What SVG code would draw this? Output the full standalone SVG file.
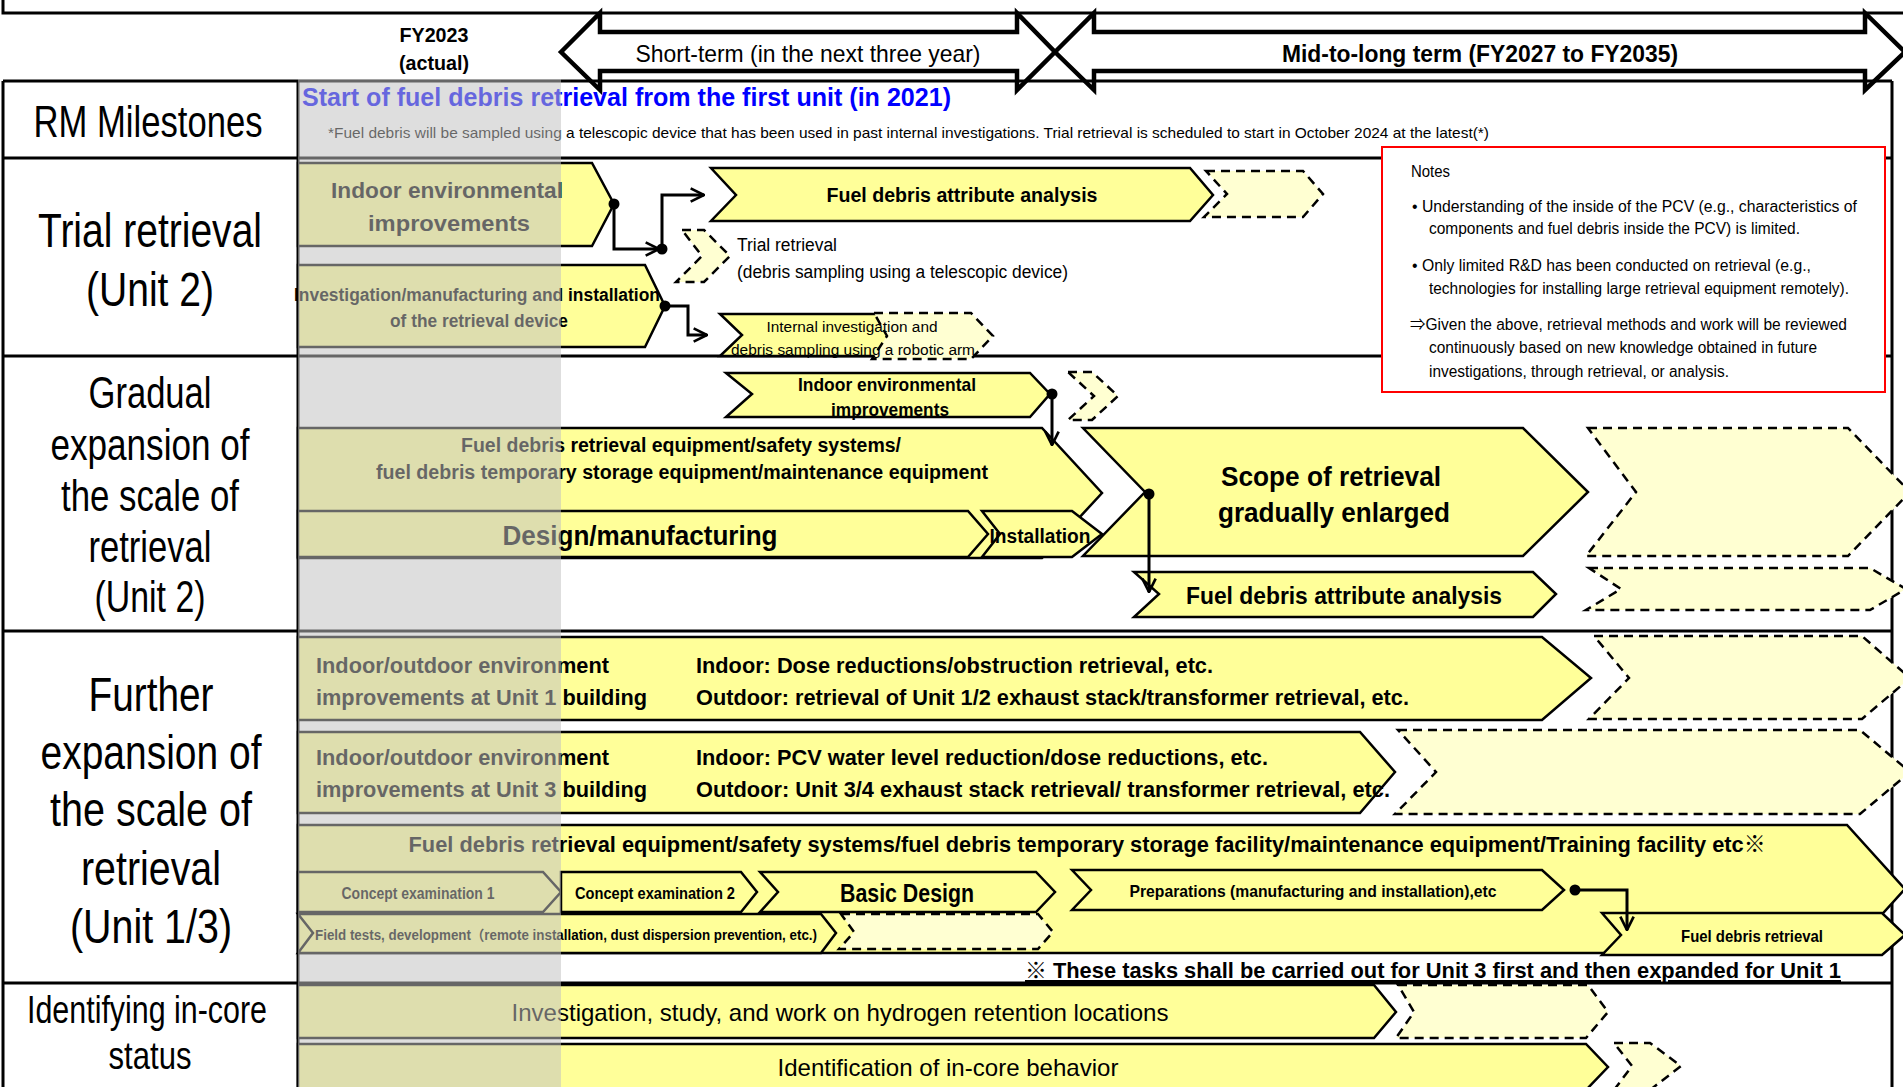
<svg xmlns="http://www.w3.org/2000/svg" width="1903" height="1087" viewBox="0 0 1903 1087">
<style>
.s{fill:#ffff99;stroke:#000;stroke-width:2.5;stroke-linejoin:miter}
.d{fill:#ffffd2;stroke:#000;stroke-width:2.5;stroke-dasharray:9 6}
.t{font-family:'Liberation Sans',Arial,'Noto Sans CJK JP',sans-serif;fill:#000}
.b{font-weight:bold}
.m{text-anchor:middle}
.ln{stroke:#000;stroke-width:3;fill:none}
.cn{stroke:#000;stroke-width:3;fill:none;marker-end:url(#arr)}
.lab{font-size:48px}
</style>
<defs>
<marker id="arr" viewBox="0 0 12 12" refX="11" refY="6" markerWidth="16" markerHeight="16" markerUnits="userSpaceOnUse" orient="auto">
<path d="M1,1 L11,6 L1,11" fill="none" stroke="#000" stroke-width="2"/>
</marker>
</defs>
<rect x="0" y="0" width="1903" height="1087" fill="#fff"/>

<g id="header">
<path d="M561,52 L600,13 V32 H1017 V13 L1055,52 L1017,90 V71 H600 V90 Z" fill="#fff" stroke="#000" stroke-width="4.5"/>
<path d="M1055,52 L1094,13 V32 H1865 V13 L1905,52 L1865,90 V71 H1094 V90 Z" fill="#fff" stroke="#000" stroke-width="4.5"/>
<text class="t b m" x="434" y="42" font-size="21" textLength="69" lengthAdjust="spacingAndGlyphs">FY2023</text>
<text class="t b m" x="434" y="70" font-size="21" textLength="70" lengthAdjust="spacingAndGlyphs">(actual)</text>
<text class="t m" x="808" y="62" font-size="24" textLength="345" lengthAdjust="spacingAndGlyphs">Short-term (in the next three year)</text>
<text class="t b m" x="1480" y="62" font-size="24" textLength="396" lengthAdjust="spacingAndGlyphs">Mid-to-long term (FY2027 to FY2035)</text>
</g>

<g id="table">
<path class="ln" d="M3,0 V13 H1903" stroke-width="2.5"/>
<path class="ln" d="M3,81 H1892 M3,158 H1892 M3,356 H1892 M3,631 H1892 M3,983 H1892"/>
<path class="ln" d="M3,81 V1087 M298,81 V1087 M1892,81 V1087" stroke-width="2.5"/>
</g>

<g id="labels">
<text class="t m" x="148" y="137" font-size="44" textLength="229" lengthAdjust="spacingAndGlyphs">RM Milestones</text>
<text class="t m lab" x="150" y="247" textLength="224" lengthAdjust="spacingAndGlyphs">Trial retrieval</text>
<text class="t m lab" x="150" y="306" textLength="128" lengthAdjust="spacingAndGlyphs">(Unit 2)</text>
<text class="t m" x="150" y="408" font-size="44" textLength="123" lengthAdjust="spacingAndGlyphs">Gradual</text>
<text class="t m" x="150" y="460" font-size="44" textLength="199" lengthAdjust="spacingAndGlyphs">expansion of</text>
<text class="t m" x="150" y="511" font-size="44" textLength="178" lengthAdjust="spacingAndGlyphs">the scale of</text>
<text class="t m" x="150" y="562" font-size="44" textLength="123" lengthAdjust="spacingAndGlyphs">retrieval</text>
<text class="t m" x="150" y="612" font-size="44" textLength="111" lengthAdjust="spacingAndGlyphs">(Unit 2)</text>
<text class="t m lab" x="151" y="711" textLength="125" lengthAdjust="spacingAndGlyphs">Further</text>
<text class="t m lab" x="151" y="769" textLength="221" lengthAdjust="spacingAndGlyphs">expansion of</text>
<text class="t m lab" x="151" y="826" textLength="202" lengthAdjust="spacingAndGlyphs">the scale of</text>
<text class="t m lab" x="151" y="885" textLength="140" lengthAdjust="spacingAndGlyphs">retrieval</text>
<text class="t m lab" x="151" y="943" textLength="162" lengthAdjust="spacingAndGlyphs">(Unit 1/3)</text>
<text class="t m" x="147" y="1023" font-size="38.5" textLength="240" lengthAdjust="spacingAndGlyphs">Identifying in-core</text>
<text class="t m" x="150" y="1069" font-size="38.5" textLength="83" lengthAdjust="spacingAndGlyphs">status</text>
</g>

<g id="milestone">
<text class="t b" x="302" y="106" font-size="25" style="fill:#0000ff" textLength="649" lengthAdjust="spacingAndGlyphs">Start of fuel debris retrieval from the first unit (in 2021)</text>
<text class="t" x="328" y="138" font-size="14.5" textLength="1161" lengthAdjust="spacingAndGlyphs">*Fuel debris will be sampled using a telescopic device that has been used in past internal investigations. Trial retrieval is scheduled to start in October 2024 at the latest(*)</text>
</g>

<g id="n-trial-indoor">
<polygon class="s" points="298,163 592,163 614,204 592,246 298,246"/>
<text class="t b m" x="447" y="198" font-size="22" textLength="232" lengthAdjust="spacingAndGlyphs">Indoor environmental</text>
<text class="t b m" x="449" y="231" font-size="22" textLength="162" lengthAdjust="spacingAndGlyphs">improvements</text>
</g>
<g id="n-trial-device">
<polygon class="s" points="298,265 645,265 665,306 645,347 298,347"/>
<text class="t b m" x="477" y="301" font-size="18" textLength="366" lengthAdjust="spacingAndGlyphs">Investigation/manufacturing and installation</text>
<text class="t b m" x="479" y="327" font-size="18" textLength="178" lengthAdjust="spacingAndGlyphs">of the retrieval device</text>
</g>
<g id="n-trial-fdaa">
<polygon class="s" points="711,168 1190,168 1213,195 1190,221 711,221 736,195"/>
<text class="t b m" x="962" y="202" font-size="20" textLength="271" lengthAdjust="spacingAndGlyphs">Fuel debris attribute analysis</text>
</g>
<g id="n-trial-fdaa-next">
<polygon class="d" points="1206,171 1303,171 1323,194 1303,217 1204,217 1227,194"/>
</g>
<g id="n-trial-retrieval">
<polygon class="d" points="682,230 704,230 730,256 704,282 676,282 702,256"/>
<text class="t" x="737" y="251" font-size="18" textLength="100" lengthAdjust="spacingAndGlyphs">Trial retrieval</text>
<text class="t" x="737" y="278" font-size="18" textLength="331" lengthAdjust="spacingAndGlyphs">(debris sampling using a telescopic device)</text>
</g>
<g id="n-trial-internal">
<polygon class="s" points="720,314 877,314 890,335 877,356 720,356 742,335"/>
<polygon class="d" points="874,313 971,313 993,336 971,359 872,359 887,336"/>
<text class="t m" x="852" y="332" font-size="15.5" textLength="171" lengthAdjust="spacingAndGlyphs">Internal investigation and</text>
<text class="t m" x="853" y="355" font-size="15.5" textLength="244" lengthAdjust="spacingAndGlyphs">debris sampling using a robotic arm</text>
</g>

<g id="n-notes">
<rect x="1382" y="147" width="503" height="245" fill="#fff" stroke="#ff0000" stroke-width="2"/>
<text class="t" x="1411" y="177" font-size="16" textLength="39" lengthAdjust="spacingAndGlyphs">Notes</text>
<text class="t" x="1412" y="212" font-size="16" textLength="445" lengthAdjust="spacingAndGlyphs">• Understanding of the inside of the PCV (e.g., characteristics of</text>
<text class="t" x="1429" y="234" font-size="16" textLength="371" lengthAdjust="spacingAndGlyphs">components and fuel debris inside the PCV) is limited.</text>
<text class="t" x="1412" y="271" font-size="16" textLength="399" lengthAdjust="spacingAndGlyphs">• Only limited R&amp;D has been conducted on retrieval (e.g.,</text>
<text class="t" x="1429" y="294" font-size="16" textLength="420" lengthAdjust="spacingAndGlyphs">technologies for installing large retrieval equipment remotely).</text>
<text class="t" x="1410" y="330" font-size="16" textLength="437" lengthAdjust="spacingAndGlyphs">⇒Given the above, retrieval methods and work will be reviewed</text>
<text class="t" x="1429" y="353" font-size="16" textLength="388" lengthAdjust="spacingAndGlyphs">continuously based on new knowledge obtained in future</text>
<text class="t" x="1429" y="377" font-size="16" textLength="300" lengthAdjust="spacingAndGlyphs">investigations, through retrieval, or analysis.</text>
</g>

<g id="n-grad-equipment">
<polygon class="s" points="298,428 1042,428 1102,493 1042,558 298,558"/>
<text class="t b m" x="681" y="452" font-size="19.5" textLength="440" lengthAdjust="spacingAndGlyphs">Fuel debris retrieval equipment/safety systems/</text>
<text class="t b m" x="682" y="479" font-size="19.5" textLength="612" lengthAdjust="spacingAndGlyphs">fuel debris temporary storage equipment/maintenance equipment</text>
</g>
<g id="n-grad-indoor">
<polygon class="s" points="726,373 1030,373 1050,394 1030,417 726,417 752,394"/>
<text class="t b m" x="887" y="391" font-size="18.5" textLength="178" lengthAdjust="spacingAndGlyphs">Indoor environmental</text>
<text class="t b m" x="890" y="416" font-size="18.5" textLength="118" lengthAdjust="spacingAndGlyphs">improvements</text>
</g>
<g id="n-grad-indoor-next">
<polygon class="d" points="1068,372 1092,372 1118,396 1092,420 1068,420 1094,396"/>
</g>
<g id="n-grad-design">
<polygon class="s" points="298,511 968,511 988,534 968,557 298,557"/>
<text class="t b m" x="640" y="545" font-size="28" textLength="275" lengthAdjust="spacingAndGlyphs">Design/manufacturing</text>
</g>
<g id="n-grad-install">
<polygon class="s" points="982,511 1072,511 1102,534 1072,557 982,557 1000,534"/>
<text class="t b m" x="1040" y="543" font-size="20" textLength="101" lengthAdjust="spacingAndGlyphs">Installation</text>
</g>
<g id="n-grad-scope">
<polygon class="s" points="1083,428 1523,428 1588,492 1523,556 1083,556 1145,492"/>
<text class="t b m" x="1331" y="486" font-size="27" textLength="220" lengthAdjust="spacingAndGlyphs">Scope of retrieval</text>
<text class="t b m" x="1334" y="522" font-size="27" textLength="232" lengthAdjust="spacingAndGlyphs">gradually enlarged</text>
</g>
<g id="n-grad-scope-next">
<polygon class="d" points="1588,428 1848,428 1910,492 1848,556 1586,556 1636,492"/>
</g>
<g id="n-grad-fdaa">
<polygon class="s" points="1134,572 1533,572 1556,594 1533,617 1134,617 1159,594"/>
<text class="t b m" x="1344" y="604" font-size="24" textLength="316" lengthAdjust="spacingAndGlyphs">Fuel debris attribute analysis</text>
</g>
<g id="n-grad-fdaa-next">
<polygon class="d" points="1589,568 1870,568 1906,589 1870,610 1586,610 1621,589"/>
</g>

<g id="n-unit1">
<polygon class="s" points="298,637 1542,637 1591,678 1542,720 298,720"/>
<text class="t b" x="316" y="673" font-size="22" textLength="293" lengthAdjust="spacingAndGlyphs">Indoor/outdoor environment</text>
<text class="t b" x="316" y="705" font-size="22" textLength="331" lengthAdjust="spacingAndGlyphs">improvements at Unit 1 building</text>
<text class="t b" x="696" y="673" font-size="22" textLength="517" lengthAdjust="spacingAndGlyphs">Indoor: Dose reductions/obstruction retrieval, etc.</text>
<text class="t b" x="696" y="705" font-size="22" textLength="713" lengthAdjust="spacingAndGlyphs">Outdoor: retrieval of Unit 1/2 exhaust stack/transformer retrieval, etc.</text>
</g>
<g id="n-unit1-next">
<polygon class="d" points="1594,636 1862,636 1910,678 1862,719 1589,719 1629,678"/>
</g>
<g id="n-unit3">
<polygon class="s" points="298,732 1360,732 1395,772 1360,813 298,813"/>
<text class="t b" x="316" y="765" font-size="22" textLength="293" lengthAdjust="spacingAndGlyphs">Indoor/outdoor environment</text>
<text class="t b" x="316" y="797" font-size="22" textLength="331" lengthAdjust="spacingAndGlyphs">improvements at Unit 3 building</text>
<text class="t b" x="696" y="765" font-size="22" textLength="572" lengthAdjust="spacingAndGlyphs">Indoor: PCV water level reduction/dose reductions, etc.</text>
<text class="t b" x="696" y="797" font-size="22" textLength="694" lengthAdjust="spacingAndGlyphs">Outdoor: Unit 3/4 exhaust stack retrieval/ transformer retrieval, etc.</text>
</g>
<g id="n-unit3-next">
<polygon class="d" points="1398,730 1860,730 1910,772 1860,814 1395,814 1436,772"/>
</g>
<g id="n-further-equipment">
<polygon class="s" points="298,825 1847,825 1905,889 1847,953 298,953"/>
<text class="t b m" x="1087" y="852" font-size="22.5" textLength="1357" lengthAdjust="spacingAndGlyphs">Fuel debris retrieval equipment/safety systems/fuel debris temporary storage facility/maintenance equipment/Training facility etc※</text>
</g>
<g id="n-concept1">
<polygon class="s" points="298,872 543,872 561,892 543,912 298,912"/>
<text class="t b m" x="418" y="899" font-size="16.5" textLength="153" lengthAdjust="spacingAndGlyphs">Concept examination 1</text>
</g>
<g id="n-concept2">
<polygon class="s" points="561,872 741,872 757,892 741,912 561,912"/>
<text class="t b m" x="655" y="899" font-size="16.5" textLength="160" lengthAdjust="spacingAndGlyphs">Concept examination 2</text>
</g>
<g id="n-basic">
<polygon class="s" points="760,872 1036,872 1055,892 1036,912 760,912 778,892"/>
<text class="t b m" x="907" y="902" font-size="25" textLength="134" lengthAdjust="spacingAndGlyphs">Basic Design</text>
</g>
<g id="n-prep">
<polygon class="s" points="1072,870 1542,870 1564,890 1542,910 1072,910 1091,890"/>
<text class="t b m" x="1313" y="897" font-size="17" textLength="367" lengthAdjust="spacingAndGlyphs">Preparations (manufacturing and installation),etc</text>
</g>
<g id="n-field">
<polygon class="s" points="298,914 821,914 836,933 821,953 298,953 313,933"/>
<text class="t b" x="315" y="940" font-size="14" textLength="502" lengthAdjust="spacingAndGlyphs">Field tests, development（remote installation, dust dispersion prevention, etc.)</text>
</g>
<g id="n-field-next">
<polygon class="d" points="841,914 1038,914 1053,932 1038,949 839,949 854,932"/>
</g>
<g id="n-fdr">
<polygon class="s" points="1602,913 1882,913 1905,935 1882,955 1602,955 1621,935"/>
<text class="t b m" x="1752" y="942" font-size="16.5" textLength="142" lengthAdjust="spacingAndGlyphs">Fuel debris retrieval</text>
</g>
<g id="footnote">
<text class="t b" x="1025" y="978" font-size="22" text-decoration="underline" textLength="816" lengthAdjust="spacingAndGlyphs">※ These tasks shall be carried out for Unit 3 first and then expanded for Unit 1</text>
</g>

<g id="n-hydrogen">
<polygon class="s" points="298,985 1374,985 1396,1012 1374,1038 298,1038"/>
<text class="t m" x="840" y="1021" font-size="24" textLength="657" lengthAdjust="spacingAndGlyphs">Investigation, study, and work on hydrogen retention locations</text>
</g>
<g id="n-hydrogen-next">
<polygon class="d" points="1398,985 1588,985 1608,1012 1586,1038 1396,1038 1414,1012"/>
</g>
<g id="n-incore">
<polygon class="s" points="298,1044 1586,1044 1608,1067 1586,1090 298,1090"/>
<text class="t m" x="948" y="1076" font-size="24" textLength="341" lengthAdjust="spacingAndGlyphs">Identification of in-core behavior</text>
</g>
<g id="n-incore-next">
<polygon class="d" points="1614,1043 1650,1043 1681,1066 1650,1090 1614,1090 1632,1066"/>
</g>

<g id="connectors">
<path class="cn" d="M614,204 V249 H659"/>
<path class="cn" d="M662,249 V195 H704"/>
<path class="cn" d="M665,306 H688 V335 H707"/>
<path class="cn" d="M1052,394 V445"/>
<path class="cn" d="M1149,494 V592"/>
<path class="cn" d="M1575,890 H1627 V930"/>
<g fill="#000">
<circle cx="614" cy="204" r="5.5"/>
<circle cx="662" cy="249" r="5.5"/>
<circle cx="665" cy="306" r="5.5"/>
<circle cx="1052" cy="394" r="5.5"/>
<circle cx="1149" cy="494" r="5.5"/>
<circle cx="1575" cy="890" r="5.5"/>
</g>
</g>

<rect id="fy2023-band" x="298" y="79" width="263" height="1010" fill="#c0c0c0" fill-opacity="0.53"/>
</svg>
